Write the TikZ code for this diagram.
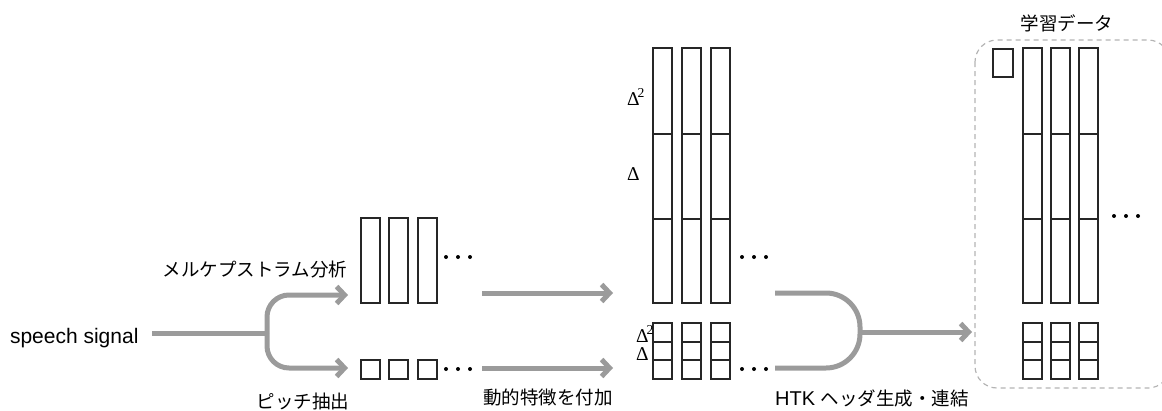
\documentclass[tikz,border=0pt]{standalone}
\usepackage{fontspec}
\setmainfont{Liberation Sans}
\newfontfamily\jp{Noto Sans CJK JP}
\newfontfamily\greek{Liberation Serif}
\usetikzlibrary{arrows.meta}
\definecolor{flowgray}{HTML}{9B9B9B}
\definecolor{boxgray}{HTML}{B4B4B4}

\begin{document}
\begin{tikzpicture}[x=1pt,y=-1pt,
        frame/.style={draw=black!85,line width=1.1pt},
        pipe/.style={draw=flowgray,line width=5pt},
        flow/.style={pipe,-{Straight Barb[length=8pt,width=17pt]}},
        jlabel/.style={font=\jp\fontsize{18.5}{20}\selectfont},
        dlabel/.style={font=\greek\fontsize{19.5}{22}\selectfont,inner sep=0pt,anchor=base west}]
        \useasboundingbox (0,0) rectangle (1162,410);
        % feature columns
        \foreach \x in {361,389,418}
         {
        \draw[frame] (\x,218) rectangle ++(19,85);
        \draw[frame] (\x,360) rectangle ++(19,19);
        }
        \foreach \x in {653,682,711,1023,1051,1079}
         {
        \draw[frame] (\x,48) rectangle ++(19,255);
        \draw[frame] (\x,134) -- ++(19,0);
        \draw[frame] (\x,219) -- ++(19,0);
        \draw[frame] (\x,323) rectangle ++(19,56);
        \draw[frame] (\x,342) -- ++(19,0);
        \draw[frame] (\x,360) -- ++(19,0);
        }
        \draw[frame] (993,49) rectangle (1013,77);
        \draw[boxgray,line width=1.2pt,dash pattern=on 5pt off 4pt,rounded corners=22] (975,40) rectangle (1170,388);
        % dots
        \foreach \x in {0,12,24}
         {
        \fill (446+\x,257) circle[radius=2pt];
        \fill (446+\x,369) circle[radius=2pt];
        \fill (742+\x,257) circle[radius=2pt];
        \fill (742+\x,369) circle[radius=2pt];
        \fill (1114+\x,216) circle[radius=2pt];
        }
        % labels
        \node[anchor=base east] (speech) at (142,343) {\fontsize{21}{24}\selectfont speech signal};
        \node[jlabel] (mcep) at (255,270) {メルケプストラム分析};
        \node[jlabel] (pitch) at (303,401) {ピッチ抽出};
        \node[jlabel] (delta) at (548,397) {動的特徴を付加};
        \node (htk) at (872,398) {\fontsize{20}{22}\selectfont HTK {\jp\fontsize{18.5}{20}\selectfont ヘッダ生成・連結}};
        \node[jlabel] (train) at (1067,23) {学習データ};
        \node[dlabel] (dd) at (627,105) {Δ\kern-2pt\textsuperscript{2}};
        \node[dlabel] (d) at (627,180) {Δ};
        \node[dlabel] (ddsmall) at (636,342) {Δ\kern-2pt\textsuperscript{2}};
        \node[dlabel] (dsmall) at (636,360) {Δ};
        % flows
        \coordinate (sigout) at (152,333);
        \coordinate (split) at (267,333);
        \coordinate (mcepin) at (348,295);
        \coordinate (pitchin) at (348,368);
        \coordinate (mcepout) at (482,293);
        \coordinate (deltain) at (613,293);
        \coordinate (pitchout) at (482,368);
        \coordinate (pitchdin) at (613,368);
        \coordinate (catin) at (775,293);
        \coordinate (catinlow) at (775,368);
        \coordinate (merge) at (860,332);
        \coordinate (trainin) at (972,332);
        \draw[pipe] (sigout) -- (split);
        \draw[flow,rounded corners=22] (split) |- (mcepin);
        \draw[flow,rounded corners=22] (split) |- (pitchin);
        \draw[flow] (mcepout) -- (deltain);
        \draw[flow] (pitchout) -- (pitchdin);
        \draw[pipe,rounded corners=34] (catin) -| (merge);
        \draw[pipe,rounded corners=34] (catinlow) -| (merge);
        \draw[flow] (merge) -- (trainin);
\end{tikzpicture}
\end{document}
